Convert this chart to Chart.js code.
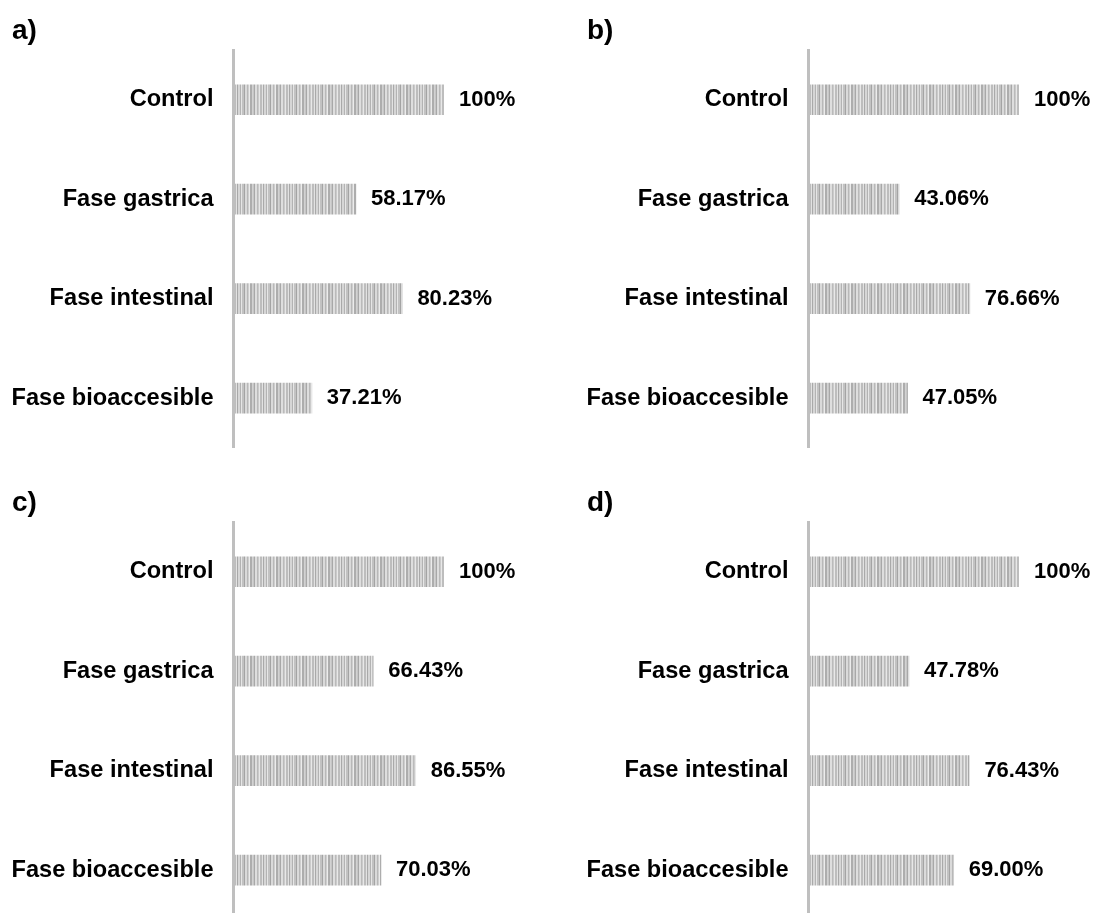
<!DOCTYPE html>
<html>
<head>
<meta charset="utf-8">
<script src="https://cdn.jsdelivr.net/npm/chart.js@4/dist/chart.umd.min.js"></script>
<style>
  html, body { margin: 0; padding: 0; background: #ffffff; }
  body { width: 1093px; height: 913px; position: relative; overflow: hidden; }
  .panel { position: absolute; width: 546px; height: 482px; }
</style>
</head>
<body>
<div class="panel" style="left:0px;top:0px;"><canvas id="chartA" width="546" height="482"></canvas></div>
<div class="panel" style="left:575px;top:0px;"><canvas id="chartB" width="546" height="482"></canvas></div>
<div class="panel" style="left:0px;top:472px;"><canvas id="chartC" width="546" height="482"></canvas></div>
<div class="panel" style="left:575px;top:472px;"><canvas id="chartD" width="546" height="482"></canvas></div>
<script>
// Digestion phases shown on each panel
const categories = ['Control', 'Fase gastrica', 'Fase intestinal', 'Fase bioaccesible'];

// Percentage retained in each phase, one array per panel
const panelA = [100, 58.17, 80.23, 37.21];
const panelB = [100, 43.06, 76.66, 47.05];
const panelC = [100, 66.43, 86.55, 70.03];
const panelD = [100, 47.78, 76.43, 69.00];

const panelTitles = ['a)', 'b)', 'c)', 'd)'];
const panelSeries = [panelA, panelB, panelC, panelD];
const canvasIds = ['chartA', 'chartB', 'chartC', 'chartD'];

const FONT = "'Liberation Sans', Arial, Helvetica, sans-serif";

// Grey vertical-stripe texture used to fill the bars: [shade, width in px]
function stripePattern() {
  const stripes = [
    ['#bdbdbd', 2], ['#e2e2e2', 1], ['#a9a9a9', 1], ['#d6d6d6', 2], ['#b3b3b3', 1],
    ['#e6e6e6', 1], ['#c2c2c2', 2], ['#a4a4a4', 1], ['#dadada', 2], ['#b8b8b8', 1],
    ['#cfcfcf', 1], ['#ececec', 1], ['#adadad', 2], ['#d2d2d2', 1], ['#c6c6c6', 1],
    ['#a8a8a8', 1], ['#dedede', 2], ['#bababa', 1], ['#cbcbcb', 1], ['#e8e8e8', 1]
  ];
  const total = stripes.reduce((s, st) => s + st[1], 0);
  const c = document.createElement('canvas');
  c.width = total;
  c.height = 4;
  const g = c.getContext('2d');
  let x = 0;
  stripes.forEach(([shade, w]) => { g.fillStyle = shade; g.fillRect(x, 0, w, 4); x += w; });
  return g.createPattern(c, 'repeat');
}

function formatPct(v) {
  return v >= 100 ? '100%' : v.toFixed(2) + '%';
}

// Writes the percentage to the right of each bar
const valueLabels = {
  id: 'valueLabels',
  afterDatasetsDraw(chart) {
    const ctx = chart.ctx;
    const meta = chart.getDatasetMeta(0);
    const values = chart.data.datasets[0].data;
    ctx.save();
    ctx.font = 'bold 22px ' + FONT;
    ctx.fillStyle = '#000000';
    ctx.textAlign = 'left';
    ctx.textBaseline = 'middle';
    meta.data.forEach((bar, i) => {
      ctx.fillText(formatPct(values[i]), bar.x + 15, bar.y);
    });
    ctx.restore();
  }
};

const pattern = stripePattern();

panelSeries.forEach((series, idx) => {
  new Chart(document.getElementById(canvasIds[idx]), {
    type: 'bar',
    data: {
      labels: categories,
      datasets: [{
        data: series,
        backgroundColor: pattern,
        borderWidth: 0,
        barThickness: 30
      }]
    },
    options: {
      indexAxis: 'y',
      responsive: false,
      animation: false,
      devicePixelRatio: 1,
      layout: { padding: { left: 12, right: 102, top: 0, bottom: 0 } },
      plugins: {
        legend: { display: false },
        tooltip: { enabled: false },
        title: {
          display: true,
          text: panelTitles[idx],
          align: 'start',
          color: '#000000',
          font: { family: FONT, size: 28, weight: 'bold', lineHeight: 1.2 },
          padding: { top: 14, bottom: 2.4 }
        }
      },
      scales: {
        x: { display: false, min: 0, max: 100 },
        y: {
          afterFit(scale) { scale.width = 221.5; },
          grid: { display: false, drawTicks: false },
          border: { display: true, color: '#bfbfbf', width: 3, z: 1 },
          ticks: {
            color: '#000000',
            padding: 20,
            font: { family: FONT, size: 23.6, weight: 'bold' }
          }
        }
      }
    },
    plugins: [valueLabels]
  });
});
</script>
</body>
</html>
